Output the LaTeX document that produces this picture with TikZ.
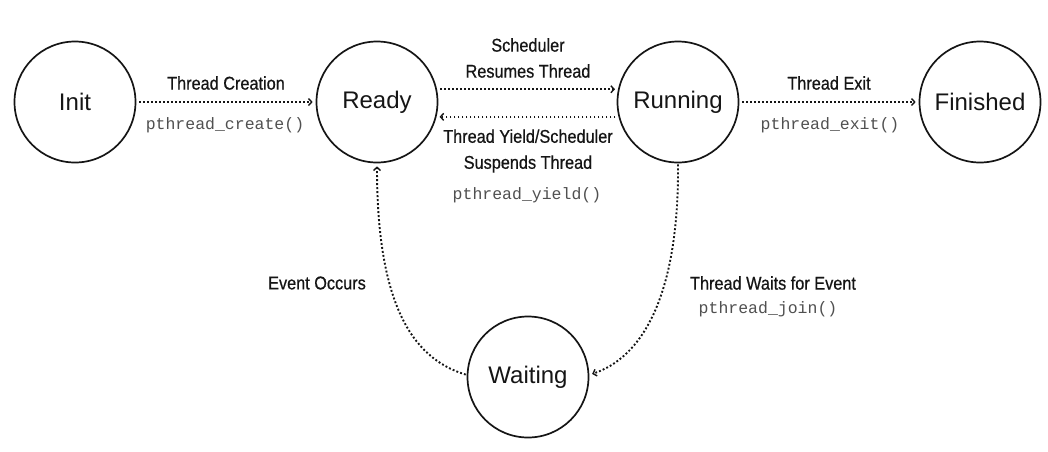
\documentclass[tikz,border=0pt]{standalone}
\usepackage{fontspec}
\setmainfont{Liberation Sans}
\newfontfamily\lblfont[FakeStretch=0.88,FakeBold=0.6]{Liberation Sans}
\newfontfamily\codefont{Liberation Mono}
\usetikzlibrary{arrows.meta}
\definecolor{codegray}{HTML}{505050}
\definecolor{inkblack}{HTML}{151515}
\begin{document}
\begin{tikzpicture}[x=1pt,y=-1pt,
  state/.style={circle,draw=inkblack,line width=1.7pt,minimum size=121pt,inner sep=0pt,
    font=\fontsize{24}{28}\selectfont,text=inkblack},
  trans/.style={line width=1.9pt,dash pattern=on 1.9pt off 2.1pt,draw=inkblack,
    -{Straight Barb[length=3.2pt,width=7pt,line width=1.4pt]},shorten >=3pt,shorten <=3pt},
  lbl/.style={font=\lblfont\fontsize{18.5}{26}\selectfont,text=inkblack,align=center,inner sep=0pt},
  code/.style={font=\codefont\fontsize{16.5}{20}\selectfont,text=codegray,inner sep=0pt}]
\useasboundingbox (0,0) rectangle (1048,451);

\node[state] (init) at (75,102) {Init};
\node[state] (ready) at (377,102) {Ready};
\node[state] (running) at (678,102) {Running};
\node[state] (finished) at (980,102) {Finished};
\node[state] (waiting) at (528,377) {Waiting};

\draw[trans] (init.east) -- (ready.west);
\draw[trans] (ready.12) -- (running.168);
\draw[trans] (running.194) -- (ready.-14);
\draw[trans] (running.east) -- (finished.west);
\draw[trans,shorten <=1pt] (waiting.178) .. controls (410,358) and (377,300) .. (ready.south);
\draw[trans,shorten <=1pt] (running.south) .. controls (679,300) and (640,358) .. (waiting.2);

\node[lbl] (l1) at (226,83) {Thread Creation};
\node[code] (c1) at (225,125) {pthread\_create()};
\node[lbl] (l2) at (528,58) {Scheduler\\Resumes Thread};
\node[lbl] (l3) at (528,151) {Thread Yield/Scheduler\\Suspends Thread};
\node[code] (c3) at (527,195) {pthread\_yield()};
\node[lbl] (l4) at (829,83) {Thread Exit};
\node[code] (c4) at (830,125) {pthread\_exit()};
\node[lbl] (l5) at (317,283) {Event Occurs};
\node[lbl] (l6) at (773,283) {Thread Waits for Event};
\node[code] (c6) at (768,309) {pthread\_join()};
\end{tikzpicture}
\end{document}
